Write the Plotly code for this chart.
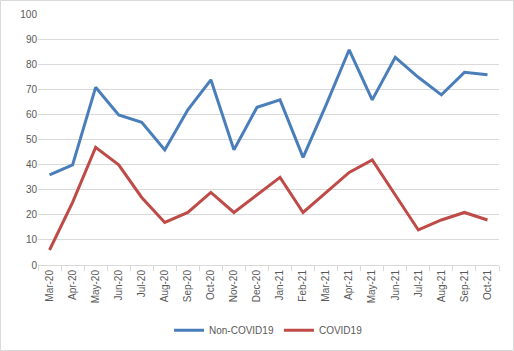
import plotly.graph_objects as go

months = ["Mar-20", "Apr-20", "May-20", "Jun-20", "Jul-20", "Aug-20", "Sep-20", "Oct-20",
          "Nov-20", "Dec-20", "Jan-21", "Feb-21", "Mar-21", "Apr-21", "May-21", "Jun-21",
          "Jul-21", "Aug-21", "Sep-21", "Oct-21"]
non_covid = [36, 40, 71, 60, 57, 46, 62, 74, 46, 63, 66, 43, 64, 86, 66, 83, 75, 68, 77, 76]
covid = [6, 25, 47, 40, 27, 17, 21, 29, 21, 28, 35, 21, 29, 37, 42, 28, 14, 18, 21, 18]

W, H = 514, 351
ml, mr, mt, mb = 38, 15, 14, 86
pw, ph = W - ml - mr, H - mt - mb

fig = go.Figure()
fig.add_trace(go.Scatter(x=months, y=non_covid, mode="lines", name="Non-COVID19",
                         line=dict(color="#4A7EBB", width=3)))
fig.add_trace(go.Scatter(x=months, y=covid, mode="lines", name="COVID19",
                         line=dict(color="#BE4B48", width=3)))

font = dict(family="Liberation Sans, Arial, sans-serif", size=10, color="#595959")
fig.update_layout(
    width=W, height=H,
    margin=dict(l=ml, r=mr, t=mt, b=mb, autoexpand=False),
    paper_bgcolor="white", plot_bgcolor="white",
    font=font,
    showlegend=True,
    legend=dict(orientation="h", x=0.5, xanchor="center", y=-0.26, yanchor="middle",
                font=dict(size=10, color="#595959")),
    xaxis=dict(type="category", range=[-0.5, len(months) - 0.5], automargin=False,
               tickangle=-90, showgrid=False, showline=True,
               linecolor="#D9D9D9", linewidth=1, ticks="outside", tickson="boundaries",
               ticklen=5, tickcolor="#D9D9D9", tickfont=dict(size=10, color="#595959")),
    yaxis=dict(range=[0, 100.3], tickvals=list(range(0, 101, 10)), showgrid=True,
               gridcolor="#D9D9D9", gridwidth=1, automargin=False,
               zeroline=False, showline=False, ticks="", ticklen=0,
               tickfont=dict(size=10, color="#595959")),
    shapes=[dict(type="rect", xref="paper", yref="paper",
                 x0=(-ml + 0.5) / pw, x1=(pw + mr - 0.5) / pw,
                 y0=(-mb + 0.5) / ph, y1=(ph + mt - 0.5) / ph,
                 line=dict(color="#D9D9D9", width=1), layer="below")],
)
fig.write_html("out.html")
